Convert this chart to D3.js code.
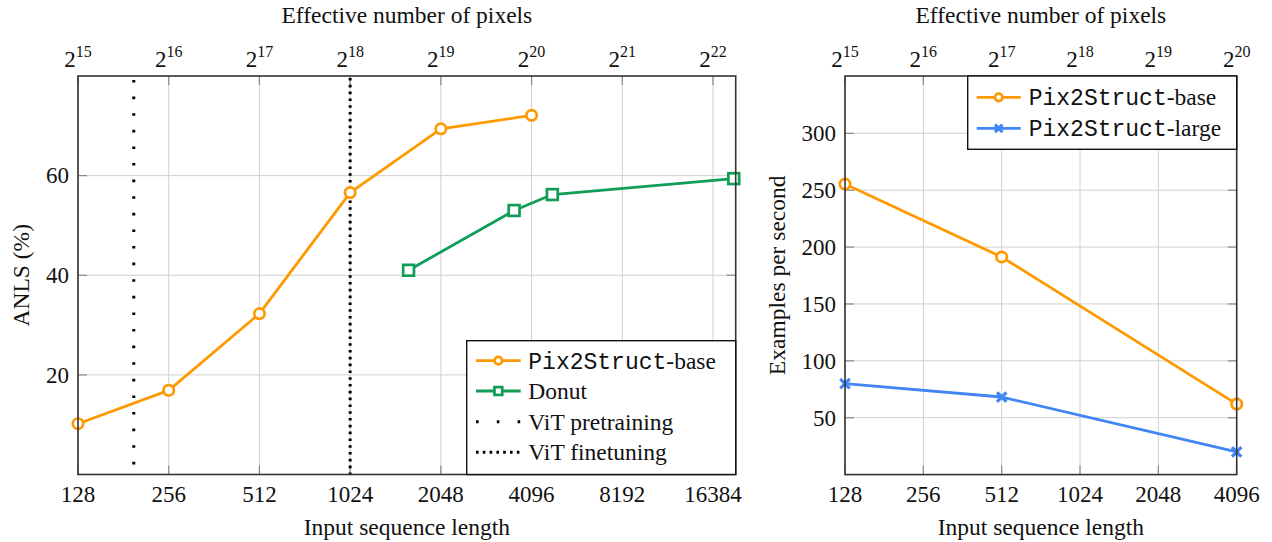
<!DOCTYPE html>
<html><head><meta charset="utf-8">
<script src="https://cdn.jsdelivr.net/npm/d3@7"></script>
<style>
body{margin:0;background:#fff;}
svg{display:block;}
</style></head>
<body><svg id="chart" width="1272" height="542" font-family="Liberation Serif, serif"></svg>
<script>
// ---------- data ----------
const seqTicksLeft = [128, 256, 512, 1024, 2048, 4096, 8192, 16384];
const pixelExpsLeft = [15, 16, 17, 18, 19, 20, 21, 22];
const anlsTicks = [20, 40, 60];
const p2sLen = [128, 256, 512, 1024, 2048, 4096];
const p2sAnls = [10.2, 16.9, 32.3, 56.6, 69.4, 72.1];
const donutLen = [1600, 3584, 4800, 19200];
const donutAnls = [41.0, 53.0, 56.2, 59.4];
const vitPretrainLen = 196;
const vitFinetuneLen = 1024;

const seqTicksRight = [128, 256, 512, 1024, 2048, 4096];
const pixelExpsRight = [15, 16, 17, 18, 19, 20];
const epsTicks = [50, 100, 150, 200, 250, 300];
const speedLen = [128, 512, 4096];
const baseSpeed = [255.4, 191.3, 62.0];
const largeSpeed = [79.9, 68.2, 19.9];

const C_ORANGE = "#FF9900", C_GREEN = "#119D58", C_BLUE = "#4285F4";
const PATCH = 256; // pixels per token (16x16)
const SERIF = "Liberation Serif, Times New Roman, serif";
const MONO = "Liberation Mono, Courier New, monospace";
const TICK_FS = 23, LABEL_FS = 23.5;

const svg = d3.select("#chart");

function txt(g) {
  return g.append("text").attr("font-family", SERIF).attr("fill", "#111");
}

function drawPanel(cfg) {
  const g = svg.append("g");
  const {x0, x1, y0, y1} = cfg;
  const x = d3.scaleLog().base(2).domain(cfg.xDomain).range([x0, x1]);
  const xTop = d3.scaleLog().base(2).domain(cfg.xDomain.map(d => d * PATCH)).range([x0, x1]);
  const y = d3.scaleLinear().domain(cfg.yDomain).range([y1, y0]);

  // grid
  g.selectAll(".gx").data(cfg.xTicks).enter().append("line")
    .attr("x1", d => x(d)).attr("x2", d => x(d)).attr("y1", y0).attr("y2", y1)
    .attr("stroke", "#d0d0d0").attr("stroke-width", 1);
  g.selectAll(".gy").data(cfg.yTicks).enter().append("line")
    .attr("x1", x0).attr("x2", x1).attr("y1", d => y(d)).attr("y2", d => y(d))
    .attr("stroke", "#d0d0d0").attr("stroke-width", 1);

  // inner tick marks
  const tl = 9;
  cfg.xTicks.forEach(d => {
    g.append("line").attr("x1", x(d)).attr("x2", x(d)).attr("y1", y1).attr("y2", y1 - tl).attr("stroke", "#888").attr("stroke-width", 1.2);
    g.append("line").attr("x1", x(d)).attr("x2", x(d)).attr("y1", y0).attr("y2", y0 + tl).attr("stroke", "#888").attr("stroke-width", 1.2);
  });
  cfg.yTicks.forEach(d => {
    g.append("line").attr("x1", x0).attr("x2", x0 + tl).attr("y1", y(d)).attr("y2", y(d)).attr("stroke", "#888").attr("stroke-width", 1.2);
    g.append("line").attr("x1", x1).attr("x2", x1 - tl).attr("y1", y(d)).attr("y2", y(d)).attr("stroke", "#888").attr("stroke-width", 1.2);
  });

  // bottom axis labels
  cfg.xTicks.forEach(d => {
    txt(g).attr("x", x(d)).attr("y", 502).attr("text-anchor", "middle").attr("font-size", TICK_FS).text(d);
  });
  txt(g).attr("x", (x0 + x1) / 2).attr("y", 535).attr("text-anchor", "middle")
    .attr("font-size", LABEL_FS).text("Input sequence length");

  // top axis labels (powers of two)
  cfg.topExps.forEach(e => {
    const t = txt(g).attr("x", xTop(Math.pow(2, e))).attr("y", 67)
      .attr("text-anchor", "middle").attr("font-size", TICK_FS);
    t.append("tspan").text("2");
    t.append("tspan").attr("font-size", 16).attr("dy", -10).text(e);
  });
  txt(g).attr("x", (x0 + x1) / 2).attr("y", 23).attr("text-anchor", "middle")
    .attr("font-size", LABEL_FS).text("Effective number of pixels");

  // y axis labels
  cfg.yTicks.forEach(d => {
    txt(g).attr("x", x0 - 9).attr("y", y(d)).attr("dy", "0.34em").attr("text-anchor", "end")
      .attr("font-size", TICK_FS).text(d);
  });
  txt(g).attr("transform", `translate(${cfg.yLabelX},${(y0 + y1) / 2}) rotate(-90)`)
    .attr("text-anchor", "middle").attr("font-size", LABEL_FS).text(cfg.yLabel);

  return {g, x, y};
}

function series(g, x, y, xs, ys, color, marker) {
  const pts = xs.map((d, i) => [x(d), y(ys[i])]);
  g.append("path").attr("d", d3.line()(pts)).attr("fill", "none")
    .attr("stroke", color).attr("stroke-width", 2.8).attr("stroke-linejoin", "round");
  pts.forEach(p => drawMarker(g, p[0], p[1], color, marker, 1));
}

function drawMarker(g, cx, cy, color, marker, s) {
  if (marker === "circle") {
    g.append("circle").attr("cx", cx).attr("cy", cy).attr("r", 5.2 * s)
      .attr("fill", "#fff").attr("stroke", color).attr("stroke-width", 2.7);
  } else if (marker === "square") {
    const h = 5.4 * s;
    g.append("rect").attr("x", cx - h).attr("y", cy - h).attr("width", 2 * h).attr("height", 2 * h)
      .attr("fill", "#fff").attr("stroke", color).attr("stroke-width", 2.7);
  } else if (marker === "x") {
    const h = 3.6 * s;
    g.append("path").attr("d", `M${cx - h},${cy - h}L${cx + h},${cy + h}M${cx - h},${cy + h}L${cx + h},${cy - h}`)
      .attr("stroke", color).attr("stroke-width", 3.2).attr("stroke-linecap", "square");
  }
}

function legendLabel(g, tx, ty, mono, rest) {
  const t = txt(g).attr("x", tx).attr("y", ty).attr("dy", "0.34em").attr("font-size", LABEL_FS);
  if (mono) t.append("tspan").attr("font-family", MONO).attr("font-size", 23).text(mono);
  t.append("tspan").attr("font-family", SERIF).text(rest);
}

// ---------- left panel ----------
{
  const L = drawPanel({
    x0: 78, x1: 735.7, y0: 76, y1: 474.5,
    xDomain: [128, Math.pow(2, 14.25)], yDomain: [0, 80],
    xTicks: seqTicksLeft, yTicks: anlsTicks, topExps: pixelExpsLeft,
    yLabel: "ANLS (%)", yLabelX: 29
  });
  const {g, x, y} = L;
  // ViT lines
  g.append("line").attr("x1", x(vitPretrainLen)).attr("x2", x(vitPretrainLen)).attr("y1", 80).attr("y2", 474.5)
    .attr("stroke", "#000").attr("stroke-width", 3).attr("stroke-dasharray", "2.6,14");
  g.append("line").attr("x1", x(vitFinetuneLen)).attr("x2", x(vitFinetuneLen)).attr("y1", 78).attr("y2", 474.5)
    .attr("stroke", "#000").attr("stroke-width", 3).attr("stroke-dasharray", "2.6,4.2");

  series(g, x, y, p2sLen, p2sAnls, C_ORANGE, "circle");
  series(g, x, y, donutLen, donutAnls, C_GREEN, "square");

  // frame
  g.append("rect").attr("x", 78).attr("y", 76).attr("width", 735.7 - 78).attr("height", 474.5 - 76)
    .attr("fill", "none").attr("stroke", "#333").attr("stroke-width", 1.6);

  // legend
  const lx0 = 466.7, ly0 = 340.7;
  g.append("rect").attr("x", lx0).attr("y", ly0).attr("width", 735.7 - lx0).attr("height", 474.5 - ly0)
    .attr("fill", "#fff").attr("stroke", "#111").attr("stroke-width", 1.4);
  const rows = [360.7, 391, 421.7, 452.3];
  const sx0 = 476, sx1 = 520.7, tx = 528.3;
  g.append("line").attr("x1", sx0).attr("x2", sx1).attr("y1", rows[0]).attr("y2", rows[0]).attr("stroke", C_ORANGE).attr("stroke-width", 2.8);
  drawMarker(g, (sx0 + sx1) / 2, rows[0], C_ORANGE, "circle", 0.72);
  legendLabel(g, tx, rows[0], "Pix2Struct", "-base");
  g.append("line").attr("x1", sx0).attr("x2", sx1).attr("y1", rows[1]).attr("y2", rows[1]).attr("stroke", C_GREEN).attr("stroke-width", 2.8);
  drawMarker(g, (sx0 + sx1) / 2, rows[1], C_GREEN, "square", 0.72);
  legendLabel(g, tx, rows[1], null, "Donut");
  g.append("line").attr("x1", sx0).attr("x2", sx1 + 2).attr("y1", rows[2]).attr("y2", rows[2])
    .attr("stroke", "#000").attr("stroke-width", 3).attr("stroke-dasharray", "2.6,18.2");
  legendLabel(g, tx, rows[2], null, "ViT pretraining");
  g.append("line").attr("x1", sx0).attr("x2", sx1 + 2).attr("y1", rows[3]).attr("y2", rows[3])
    .attr("stroke", "#000").attr("stroke-width", 3).attr("stroke-dasharray", "2.6,4.2");
  legendLabel(g, tx, rows[3], null, "ViT finetuning");
}

// ---------- right panel ----------
{
  const R = drawPanel({
    x0: 845, x1: 1236.7, y0: 76, y1: 474.6,
    xDomain: [128, 4096], yDomain: [0, 350.4],
    xTicks: seqTicksRight, yTicks: epsTicks, topExps: pixelExpsRight,
    yLabel: "Examples per second", yLabelX: 785
  });
  const {g, x, y} = R;
  series(g, x, y, speedLen, baseSpeed, C_ORANGE, "circle");
  series(g, x, y, speedLen, largeSpeed, C_BLUE, "x");
  g.append("rect").attr("x", 845).attr("y", 76).attr("width", 1236.7 - 845).attr("height", 474.6 - 76)
    .attr("fill", "none").attr("stroke", "#333").attr("stroke-width", 1.6);

  const lx0 = 967.7, ly0 = 76;
  g.append("rect").attr("x", lx0).attr("y", ly0).attr("width", 1236.7 - lx0).attr("height", 149.3 - ly0)
    .attr("fill", "#fff").attr("stroke", "#111").attr("stroke-width", 1.4);
  const rows = [97.3, 128.3];
  const sx0 = 976.7, sx1 = 1020.7, tx = 1028.7;
  g.append("line").attr("x1", sx0).attr("x2", sx1).attr("y1", rows[0]).attr("y2", rows[0]).attr("stroke", C_ORANGE).attr("stroke-width", 2.8);
  drawMarker(g, (sx0 + sx1) / 2, rows[0], C_ORANGE, "circle", 0.72);
  legendLabel(g, tx, rows[0], "Pix2Struct", "-base");
  g.append("line").attr("x1", sx0).attr("x2", sx1).attr("y1", rows[1]).attr("y2", rows[1]).attr("stroke", C_BLUE).attr("stroke-width", 2.8);
  drawMarker(g, (sx0 + sx1) / 2, rows[1], C_BLUE, "x", 0.72);
  legendLabel(g, tx, rows[1], "Pix2Struct", "-large");
}
</script></body></html>
